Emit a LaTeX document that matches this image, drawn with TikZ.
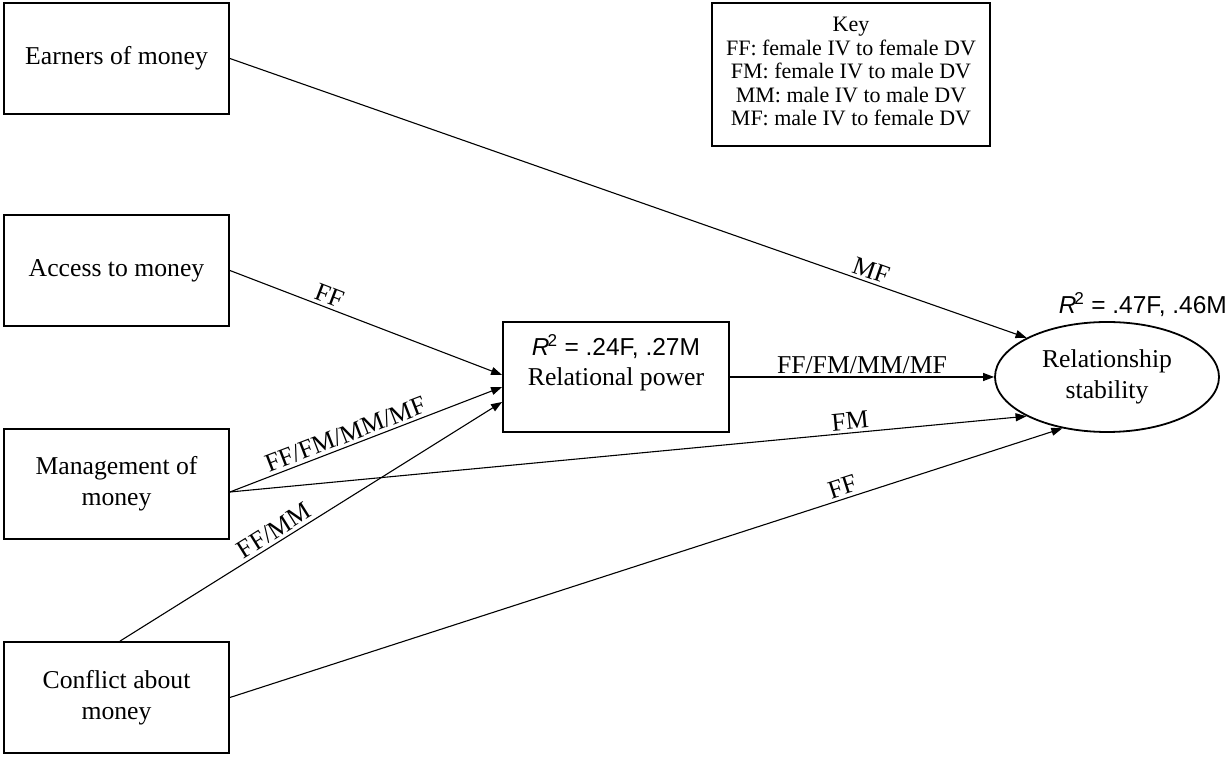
\documentclass[tikz,border=0pt]{standalone}
\usepackage{fontspec}
\setmainfont{Liberation Serif}
\newfontfamily\arialfont{Liberation Sans}
\usetikzlibrary{arrows.meta,calc,shapes.geometric}
\begin{document}
\begin{tikzpicture}[x=1pt,y=1pt,
  txt/.style={font=\fontsize{25.7}{31}\selectfont},
  box/.style={txt, draw, line width=1.8pt, minimum width=225pt, minimum height=111pt, inner sep=0pt, align=center},
  conn/.style={line width=1.1pt, -{Triangle[length=11pt,width=8pt]}},
  lab/.style={txt, sloped, above, inner sep=3pt},
  rsq/.style={font=\arialfont\fontsize{24.5}{28}\selectfont, inner sep=0pt}
]
\useasboundingbox (0,0) rectangle (1230,757);
\node[box] (earn) at (116.5,698.5) {Earners of money};
\node[box] (access) at (116.5,486.5) {Access to money};
\node[box, minimum height=110pt] (mgmt) at (116.5,273) {Management of\\money};
\node[box] (conf) at (116.5,59.5) {Conflict about\\money};
\node[box, minimum width=226pt, minimum height=110pt] (rp) at (616,380) {};
\node[rsq, anchor=base] (rpr) at (616,401) {{\itshape R}\kern-2pt\textsuperscript{2} = .24F, .27M};
\node[txt, anchor=base, inner sep=0pt] (rpt) at (616,371) {Relational power};
\node[txt, draw, ellipse, line width=1.8pt, minimum width=224pt, minimum height=110pt, inner sep=0pt, align=center] (stab) at (1107,380) {Relationship\\stability};
\node[rsq, anchor=base east] (stabr) at (1227,443) {{\itshape R}\kern-2pt\textsuperscript{2} = .47F, .46M};
\node[draw, line width=1.8pt, minimum width=278pt, minimum height=143pt] (key) at (851,682.5) {};
\node[align=center, font=\fontsize{22}{23.5}\selectfont] (keytext) at ([yshift=3pt]key.center) {Key\\FF: female IV to female DV\\FM: female IV to male DV\\MM: male IV to male DV\\MF: male IV to female DV};
\draw[conn] (earn.east) -- (stab.154.6) node[lab, pos=0.8] {MF};
\draw[conn] (access.east) -- ([yshift=2pt]rp.west) node[lab, pos=0.35] {FF};
\draw[conn] ([yshift=-8pt]mgmt.east) -- ([yshift=-10pt]rp.west) node[lab, pos=0.44] {FF/FM/MM/MF};
\draw[conn] ([yshift=-8pt]mgmt.east) -- (stab.206) node[lab, pos=0.78] {FM};
\draw[conn] ([xshift=3.5pt]conf.north) -- ([yshift=-25pt]rp.west) node[lab, pos=0.42] {FF/MM};
\draw[conn] (conf.east) -- (stab.229) node[lab, pos=0.74] {FF};
\draw[conn] (rp.east) -- (stab.west) node[lab, midway] {FF/FM/MM/MF};
\end{tikzpicture}
\end{document}
